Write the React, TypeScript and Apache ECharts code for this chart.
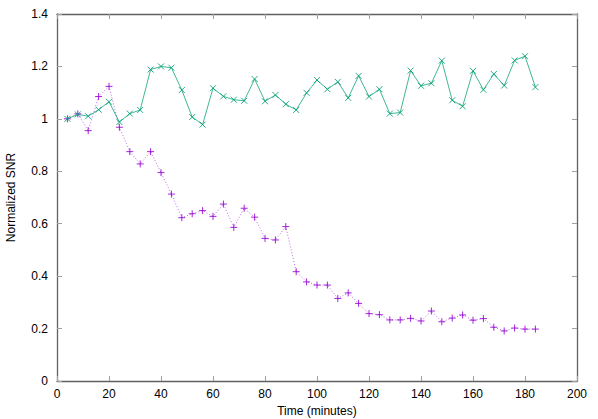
import React, { useEffect, useRef } from "react";
import * as echarts from "echarts";

const times = [4, 8, 12, 16, 20, 24, 28, 32, 36, 40, 44, 48, 52, 56, 60, 64, 68, 72, 76, 80, 84, 88, 92, 96, 100, 104, 108, 112, 116, 120, 124, 128, 132, 136, 140, 144, 148, 152, 156, 160, 164, 168, 172, 176, 180, 184];

const purpleValues = [1.0, 1.019, 0.955, 1.085, 1.124, 0.968, 0.875, 0.828, 0.875, 0.795, 0.713, 0.623, 0.638, 0.65, 0.628, 0.675, 0.586, 0.659, 0.625, 0.544, 0.538, 0.589, 0.417, 0.378, 0.366, 0.366, 0.315, 0.336, 0.296, 0.257, 0.253, 0.233, 0.233, 0.239, 0.229, 0.267, 0.226, 0.24, 0.252, 0.232, 0.238, 0.205, 0.191, 0.202, 0.198, 0.198];

const greenValues = [1.0, 1.017, 1.01, 1.035, 1.065, 0.988, 1.02, 1.034, 1.188, 1.2, 1.195, 1.11, 1.007, 0.978, 1.117, 1.086, 1.073, 1.069, 1.152, 1.067, 1.091, 1.056, 1.034, 1.099, 1.148, 1.113, 1.141, 1.08, 1.164, 1.085, 1.113, 1.02, 1.024, 1.184, 1.126, 1.136, 1.222, 1.071, 1.048, 1.183, 1.111, 1.171, 1.127, 1.223, 1.239, 1.121];

const PURPLE = "#9400d3";
const GREEN = "#009e73";
const FRAME = "#606060";
const FONT = "Liberation Sans, Arial, sans-serif";

export default function App() {
  const ref = useRef<HTMLDivElement>(null);
  useEffect(() => {
    if (!ref.current) return;
    const chart = echarts.init(ref.current, undefined, { renderer: "svg" });
    const tickStyle = { show: true, inside: true, length: 5, lineStyle: { color: "#a0a0a0", width: 1 } };
    const axisLine = { show: true, onZero: false, lineStyle: { color: FRAME, width: 1.3 } };
    const labelStyle = { color: "#000", fontSize: 12, fontFamily: FONT };
    chart.setOption({
      animation: false,
      grid: { left: 57, top: 14, width: 520, height: 367, containLabel: false, outerBoundsMode: "none" },
      xAxis: [
        {
          type: "value", min: 0, max: 200, interval: 20, position: "bottom",
          axisLine, axisTick: tickStyle, splitLine: { show: false },
          axisLabel: { ...labelStyle, margin: 7 },
          name: "Time (minutes)", nameLocation: "middle", nameGap: 20,
          nameTextStyle: { ...labelStyle },
        },
        {
          type: "value", min: 0, max: 200, interval: 20, position: "top",
          axisLine, axisTick: tickStyle, splitLine: { show: false },
          axisLabel: { show: false },
        },
      ],
      yAxis: [
        {
          type: "value", min: 0, max: 1.4, interval: 0.2, position: "left",
          axisLine, axisTick: tickStyle, splitLine: { show: false },
          axisLabel: { ...labelStyle, margin: 9, formatter: (v: number) => String(Math.round(v * 10) / 10) },
          name: "Normalized SNR", nameLocation: "middle", nameGap: 40, nameRotate: 90,
          nameTextStyle: { ...labelStyle },
        },
        {
          type: "value", min: 0, max: 1.4, interval: 0.2, position: "right",
          axisLine, axisTick: tickStyle, splitLine: { show: false },
          axisLabel: { show: false },
        },
      ],
      series: [
        {
          type: "line",
          data: times.map((t, i) => [t, purpleValues[i]]),
          lineStyle: { color: PURPLE, width: 1, type: [1, 2], opacity: 0.6 },
          symbol: "path://M0,5L10,5M5,0L5,10",
          symbolSize: 7,
          itemStyle: { color: PURPLE, borderColor: PURPLE, borderWidth: 1, opacity: 0.85 },
          showSymbol: true,
        },
        {
          type: "line",
          data: times.map((t, i) => [t, greenValues[i]]),
          lineStyle: { color: GREEN, width: 1, opacity: 0.75 },
          symbol: "path://M0,0L10,10M10,0L0,10",
          symbolSize: 6,
          itemStyle: { color: GREEN, borderColor: GREEN, borderWidth: 1, opacity: 0.85 },
          showSymbol: true,
        },
      ],
    });
    return () => chart.dispose();
  }, []);
  return <div ref={ref} style={{ width: 598, height: 419, position: "absolute", left: 0, top: 0 }} />;
}
